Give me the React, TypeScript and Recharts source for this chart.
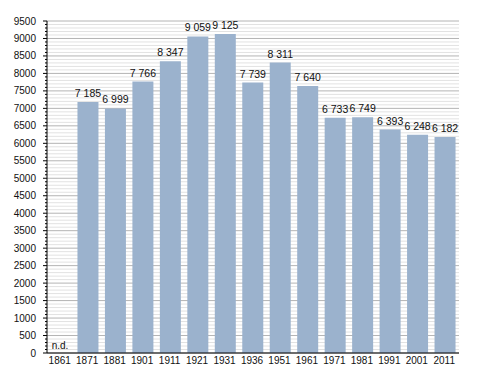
import React from "react";
import { BarChart, Bar, XAxis, YAxis, CartesianGrid, LabelList } from "recharts";

const years = ["1861", "1871", "1881", "1901", "1911", "1921", "1931", "1936", "1951", "1961", "1971", "1981", "1991", "2001", "2011"];
const population = [null, 7185, 6999, 7766, 8347, 9059, 9125, 7739, 8311, 7640, 6733, 6749, 6393, 6248, 6182];

// every 100 gets a minor tick/grid line, every 500 a labelled one
const yTicks = Array.from({ length: 96 }, (_, i) => i * 100);

const data = years.map((year, i) => ({ year, pop: population[i] }));

const FONT = "'Liberation Sans', Arial, sans-serif";

// non-breaking space so the label text isn't wrapped to bar width
const fmt = (v: number) => {
  const s = String(v);
  return s.length > 3 ? s.slice(0, -3) + "\u00a0" + s.slice(-3) : s;
};

const YTick = (props: any) => {
  const { x, y, payload } = props;
  const major = payload.value % 500 === 0;
  return (
    <g>
      <line x1={x - (major ? 4 : 2)} x2={x} y1={y} y2={y} stroke="#000" strokeWidth={1} />
      {major && (
        <text x={x - 11} y={y} dy={3.5} textAnchor="end" fontSize={10} fontFamily={FONT} fill="#111">
          {payload.value}
        </text>
      )}
    </g>
  );
};

const XTick = (props: any) => {
  const { x, y, payload, index } = props;
  return (
    <g>
      <text x={x - 1} y={y + 11} textAnchor="middle" fontSize={10} fontFamily={FONT} fill="#111">
        {payload.value}
      </text>
      {population[index] == null && (
        <text x={x - 9} y={y - 4} textAnchor="start" fontSize={10} fontFamily={FONT} fill="#111">
          n.d.
        </text>
      )}
    </g>
  );
};

const GridLine = (props: any) => {
  const { x1, x2, y1, y2, index } = props;
  const major = index % 5 === 0;
  return <line x1={x1} x2={x2} y1={y1} y2={y2} stroke={major ? "#b4b4b4" : "#e2e2e2"} strokeWidth={1} />;
};

const App = () => {
  return (
    <div style={{ position: "absolute", left: 0, top: 0, background: "#fff" }}>
      <BarChart width={488} height={373} data={data} margin={{ top: 21, right: 29, left: 0, bottom: 0 }} barSize={21}>
        <CartesianGrid vertical={false} horizontal={GridLine} />
        <XAxis dataKey="year" tick={XTick} tickLine={false} tickSize={0} tickMargin={0} axisLine={{ stroke: "#000" }} height={20} interval={0} />
        <YAxis domain={[0, 9500]} ticks={yTicks} tick={YTick} tickLine={false} tickSize={0} tickMargin={0} axisLine={{ stroke: "#000" }} width={47} interval={0} />
        <Bar dataKey="pop" fill="#9bb2cd" isAnimationActive={false}>
          <LabelList dataKey="pop" position="top" offset={5} formatter={(v: any) => (v == null ? "" : fmt(v))} style={{ fontSize: 10.5, fontFamily: FONT, fill: "#111" }} />
        </Bar>
      </BarChart>
    </div>
  );
};

export default App;
